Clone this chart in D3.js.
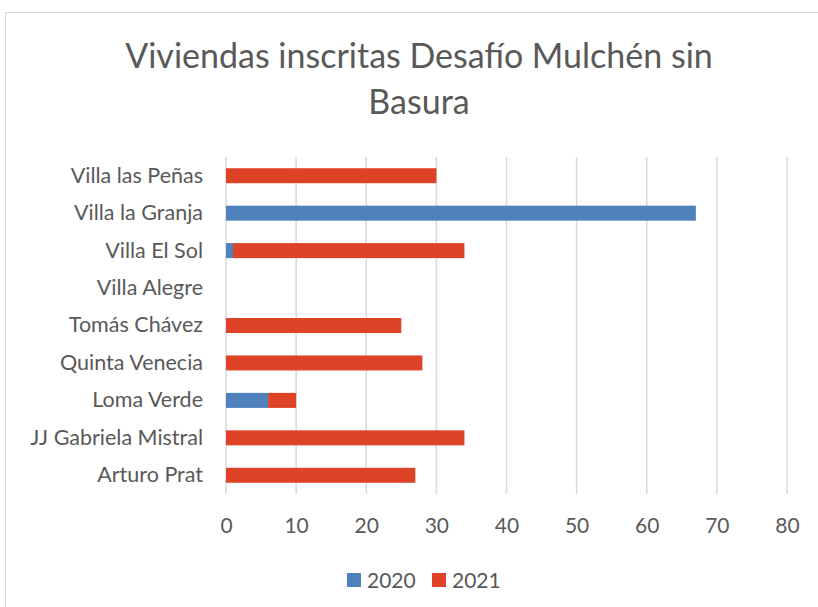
<!DOCTYPE html>
<html>
<head>
<meta charset="utf-8">
<script src="https://cdnjs.cloudflare.com/ajax/libs/d3/7.8.5/d3.min.js"></script>
<style>
  body { margin: 0; background: #fff; }
  svg text { font-family: Lato, "Open Sans", sans-serif; fill: #595959; }
</style>
</head>
<body>
<svg width="818" height="607"></svg>
<script>
// chart data
const categories = ["Villa las Peñas", "Villa la Granja", "Villa El Sol", "Villa Alegre",
    "Tomás Chávez", "Quinta Venecia", "Loma Verde", "JJ Gabriela Mistral", "Arturo Prat"];
const values2020 = [0, 67, 1, 0, 0, 0, 6, 0, 0];
const values2021 = [30, 0, 33, 0, 25, 28, 4, 34, 27];
const seriesNames = ["2020", "2021"];
const xTicks = [0, 10, 20, 30, 40, 50, 60, 70, 80];
const titleLines = ["Viviendas inscritas Desafío Mulchén sin", "Basura"];

const colors = ["#4f81bd", "#de4227"];

let svg = d3.select("svg"),
    width = +svg.attr("width"),
    height = +svg.attr("height");

// chart border
svg.append("rect")
    .attr("x", 5.5).attr("y", 12.5)
    .attr("width", width).attr("height", height)
    .attr("fill", "none")
    .attr("stroke", "#d9d9d9");

// title
svg.append("g").selectAll("text")
    .data(titleLines)
    .enter().append("text")
    .attr("x", 419)
    .attr("y", function (d, i) { return 68 + i * 46; })
    .attr("text-anchor", "middle")
    .style("font-size", "34px")
    .text(function (d) { return d; });

let x = d3.scaleLinear().domain([0, 80]).range([226, 787]);
let y = d3.scaleBand().domain(categories).range([157, 494]).paddingInner(0.6).paddingOuter(0.3);

// gridlines
svg.append("g")
    .selectAll("line")
    .data(xTicks)
    .enter().append("line")
    .attr("x1", function (d) { return x(d); })
    .attr("x2", function (d) { return x(d); })
    .attr("y1", 157).attr("y2", 494)
    .attr("stroke", "#d9d9d9")
    .attr("stroke-width", 1.5);

// x axis labels
let xAxis = svg.append("g")
    .attr("transform", "translate(0,494)")
    .call(d3.axisBottom(x).tickValues(xTicks).tickSize(0).tickPadding(24));
xAxis.select(".domain").remove();
xAxis.selectAll("text").style("font-size", "21px").attr("fill", "#595959");

// y axis labels
let yAxis = svg.append("g")
    .attr("transform", "translate(226,0)")
    .call(d3.axisLeft(y).tickSize(0).tickPadding(23));
yAxis.select(".domain").remove();
yAxis.selectAll("text").style("font-size", "21.5px").attr("fill", "#595959");

// stacked bars
let rows = categories.map(function (c, i) {
    return { cat: c, "2020": values2020[i], "2021": values2021[i] };
});
let stacked = d3.stack().keys(seriesNames)(rows);

svg.append("g")
    .selectAll("g")
    .data(stacked)
    .enter().append("g")
    .attr("fill", function (d, i) { return colors[i]; })
    .selectAll("rect")
    .data(function (d) { return d.filter(function (p) { return p[1] > p[0]; }); })
    .enter().append("rect")
    .attr("x", function (d) { return x(d[0]); })
    .attr("width", function (d) { return x(d[1]) - x(d[0]); })
    .attr("y", function (d) { return y(d.data.cat); })
    .attr("height", y.bandwidth());

// legend
let legend = svg.append("g")
    .selectAll("g")
    .data(seriesNames)
    .enter().append("g")
    .attr("transform", function (d, i) { return "translate(" + (347 + i * 85) + ",573)"; });

legend.append("rect")
    .attr("width", 14).attr("height", 14)
    .attr("fill", function (d, i) { return colors[i]; });

legend.append("text")
    .attr("x", 20).attr("y", 14.5)
    .style("font-size", "21px")
    .text(function (d) { return d; });
</script>
</body>
</html>
